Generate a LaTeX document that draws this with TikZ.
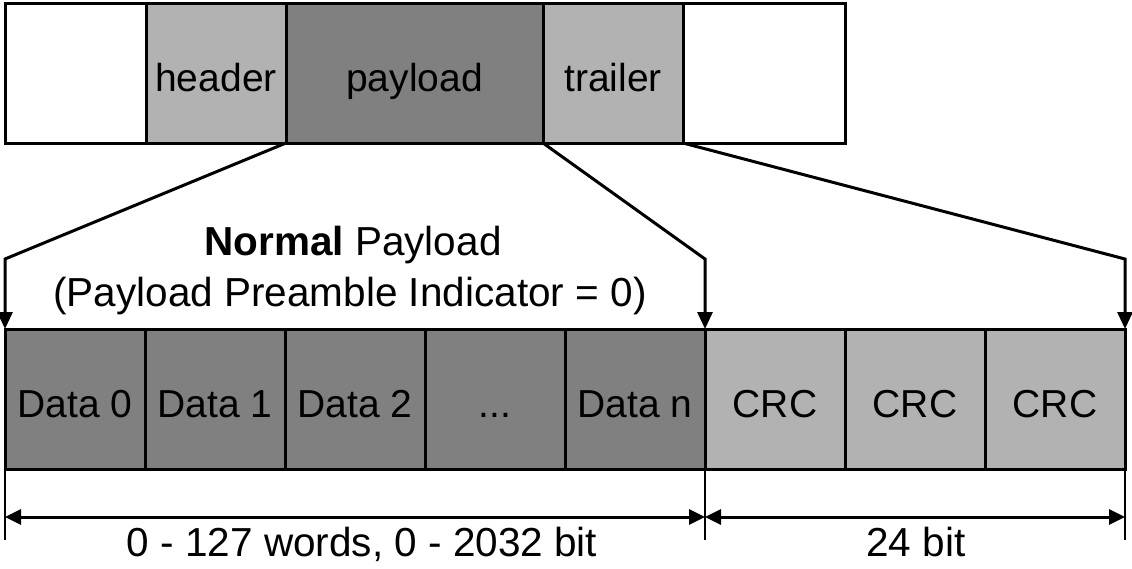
\documentclass[tikz,border=0pt]{standalone}
\usepackage{fontspec}
\setmainfont{Liberation Sans}
\usetikzlibrary{arrows.meta}
\definecolor{lgray}{HTML}{B2B2B2}
\definecolor{dgray}{HTML}{808080}
\begin{document}
\begin{tikzpicture}[x=1pt,y=-1pt,
  cell/.style={draw=black,line width=3pt,outer sep=0pt,inner sep=0pt,minimum height=140pt,
    text height=36pt,text depth=0pt,font=\fontsize{39}{46}\selectfont},
  wcell/.style={cell,fill=white},
  lcell/.style={cell,fill=lgray},
  dcell/.style={cell,fill=dgray},
  conn/.style={line width=3pt,-{Triangle[width=15pt,length=17pt]}},
  dimline/.style={line width=3pt,{Triangle[width=15pt,length=16pt]}-{Triangle[width=15pt,length=16pt]}},
  tickline/.style={line width=2pt},
  lbl/.style={font=\fontsize{40.5}{48}\selectfont,anchor=base,inner sep=0pt}]
\useasboundingbox (0,0) rectangle (1132,568);
% top frame
\node[wcell,minimum width=141pt] (w1) at (75.5,73) {};
\node[lcell,minimum width=140pt] (hd) at (216,73) {header};
\node[dcell,minimum width=257pt] (pl) at (414.5,73) {payload};
\node[lcell,minimum width=140pt] (tr) at (613,73) {trailer};
\node[wcell,minimum width=162pt] (w2) at (764,73) {};
% bottom row
\node[dcell,minimum width=140pt] (d0) at (75,399) {Data 0};
\node[dcell,minimum width=140pt] (d1) at (215,399) {Data 1};
\node[dcell,minimum width=140pt] (d2) at (355,399) {Data 2};
\node[dcell,minimum width=140pt] (dd) at (495,399) {...};
\node[dcell,minimum width=140pt] (dn) at (635,399) {Data n};
\node[lcell,minimum width=140pt] (c1) at (775,399) {CRC};
\node[lcell,minimum width=140pt] (c2) at (915,399) {CRC};
\node[lcell,minimum width=140pt] (c3) at (1055,399) {CRC};
% title
\node[lbl] (t1) at (353,255) {\textbf{Normal} Payload};
\node[lbl] (t2) at (350,306) {(Payload Preamble Indicator = 0)};
% connectors
\coordinate (k1) at (5,259);
\coordinate (k2) at (705,259);
\coordinate (k3) at (1125,259);
\draw[conn,line join=miter] (pl.south west) -- (k1) -- (d0.north west);
\draw[conn,line join=miter] (pl.south east) -- (k2) -- (dn.north east);
\draw[conn,line join=miter] (tr.south east) -- (k3) -- (c3.north east);
% dimension
\coordinate (e1) at (5,540);
\coordinate (e2) at (705,540);
\coordinate (e3) at (1125,540);
\coordinate (a1) at (5,517);
\coordinate (a2) at (705,517);
\coordinate (a3) at (1125,517);
\draw[tickline] (d0.south west) -- (e1);
\draw[tickline] (dn.south east) -- (e2);
\draw[tickline] (c3.south east) -- (e3);
\draw[dimline] (a1) -- (a2);
\draw[dimline] (a2) -- (a3);
\node[lbl] (l1) at (362,556) {0 - 127 words, 0 - 2032 bit};
\node[lbl] (l2) at (916,556) {24 bit};
\end{tikzpicture}
\end{document}
